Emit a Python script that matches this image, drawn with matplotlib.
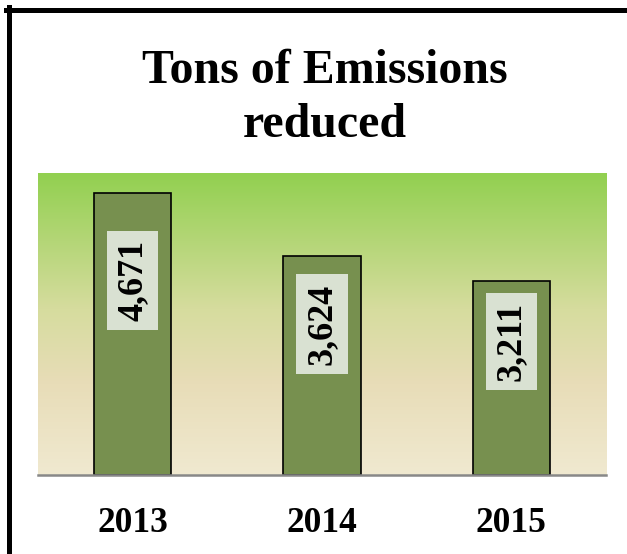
import matplotlib.pyplot as plt
import numpy as np
from matplotlib.colors import LinearSegmentedColormap
from matplotlib.lines import Line2D

years = ['2013', '2014', '2015']
tons = [4671, 3624, 3211]
title_lines = ['Tons of Emissions', 'reduced']

fig = plt.figure(figsize=(6.27, 5.54), dpi=100)
fig.patch.set_facecolor('white')
ax = fig.add_axes([0.0606, 0.1426, 0.906, 0.545])

x = np.arange(len(years))
ax.set_xlim(-0.5, 2.5)
ax.set_ylim(0, 5000)

# vertical gradient background of the plot area
grad = LinearSegmentedColormap.from_list(
    'bg', [(0.0, '#F0E9D0'), (0.3, '#E8DDB8'), (0.55, '#D6DC9E'), (1.0, '#92D050')])
ax.imshow(np.linspace(0, 1, 256).reshape(-1, 1), cmap=grad, origin='lower',
          extent=[-0.5, 2.5, 0, 5000], aspect='auto', zorder=0)

bars = ax.bar(x, tons, width=0.41, color='#77904F', edgecolor='black',
              linewidth=1.2, zorder=2)

for rect, val in zip(bars, tons):
    ax.text(rect.get_x() + rect.get_width() / 2, val * 0.69, f'{val:,}',
            rotation=90, ha='center', va='center', fontsize=26,
            fontweight='bold', family='Liberation Serif', zorder=3,
            bbox=dict(boxstyle='square,pad=0.25', facecolor='#D9E1D2',
                      edgecolor='none'))

ax.set_xticks(x)
ax.set_xticklabels(years, fontsize=25.5, fontweight='bold', family='Liberation Serif')
ax.tick_params(axis='x', length=0, pad=23)
ax.set_yticks([])
for side in ['top', 'right', 'left']:
    ax.spines[side].set_visible(False)
ax.spines['bottom'].set_color('#888888')
ax.spines['bottom'].set_linewidth(1.8)
ax.spines['bottom'].set_zorder(4)

# title, one line at a time
for line, yb in zip(title_lines, [1 - 83 / 554, 1 - 137 / 554]):
    fig.text(0.518, yb, line, ha='center', va='baseline', fontsize=34.5,
             fontweight='bold', family='Liberation Serif')

# frame lines on top and left
fig.add_artist(Line2D([6 / 627, 1], [1 - 9.5 / 554, 1 - 9.5 / 554],
                      color='black', linewidth=3.6, transform=fig.transFigure))
fig.add_artist(Line2D([8.5 / 627, 8.5 / 627], [0, 1 - 7 / 554],
                      color='black', linewidth=3.6, transform=fig.transFigure))

plt.savefig('out.png', dpi=100)
